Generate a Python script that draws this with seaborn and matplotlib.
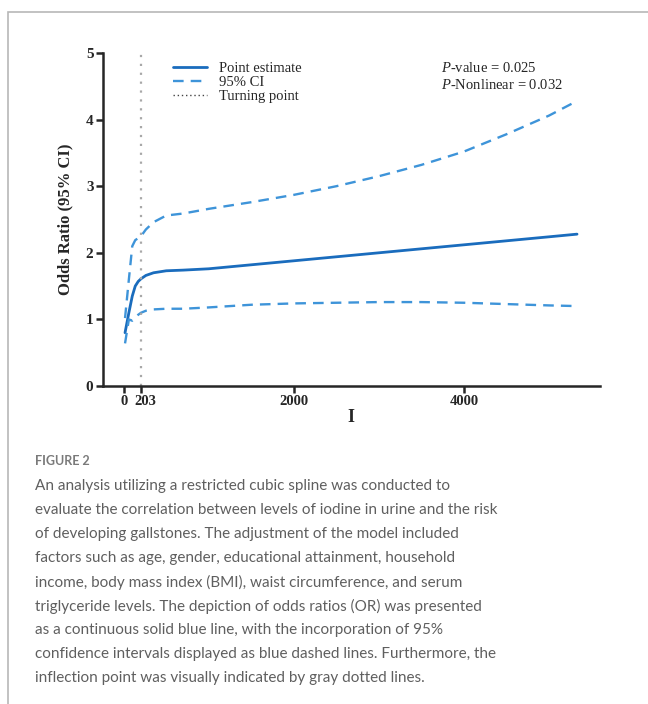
import matplotlib
matplotlib.use('Agg')
import matplotlib.pyplot as plt
import matplotlib.transforms as mtransforms
import seaborn as sns
import pandas as pd
from matplotlib.patches import Rectangle

# values
iodine = [15, 60, 100, 135, 170, 203, 260, 350, 500, 700, 1000, 1500,
          2000, 2500, 3000, 3500, 4000, 4500, 5000, 5330]
odds_ratio = [0.80, 1.10, 1.35, 1.50, 1.57, 1.61, 1.66, 1.70, 1.73, 1.74, 1.76, 1.82,
              1.88, 1.94, 2.00, 2.06, 2.12, 2.18, 2.24, 2.28]
ci_upper = [1.02, 1.60, 2.10, 2.19, 2.22, 2.25, 2.35, 2.46, 2.56, 2.59, 2.66, 2.76,
            2.87, 3.00, 3.15, 3.32, 3.52, 3.78, 4.06, 4.28]
ci_lower = [0.64, 1.00, 0.98, 1.02, 1.07, 1.10, 1.13, 1.15, 1.16, 1.16, 1.18, 1.22,
            1.24, 1.25, 1.26, 1.26, 1.25, 1.23, 1.21, 1.20]
turning_point = 203
x_ticks = [0, 203, 2000, 4000]
y_ticks = [0, 1, 2, 3, 4, 5]
p_texts = ['$\\it{P}$-value = 0.025', '$\\it{P}$-Nonlinear = 0.032']

caption_title = 'FIGURE 2'
caption_lines = [
    'An analysis utilizing a restricted cubic spline was conducted to',
    'evaluate the correlation between levels of iodine in urine and the risk',
    'of developing gallstones. The adjustment of the model included',
    'factors such as age, gender, educational attainment, household',
    'income, body mass index (BMI), waist circumference, and serum',
    'triglyceride levels. The depiction of odds ratios (OR) was presented',
    'as a continuous solid blue line, with the incorporation of 95%',
    'confidence intervals displayed as blue dashed lines. Furthermore, the',
    'inflection point was visually indicated by gray dotted lines.',
]

sns.set_style('ticks')
plt.rcParams['font.family'] = ['Liberation Serif', 'DejaVu Serif']
plt.rcParams['mathtext.fontset'] = 'custom'
plt.rcParams['mathtext.rm'] = 'Liberation Serif'
plt.rcParams['mathtext.it'] = 'Liberation Serif:italic'

data = pd.DataFrame({'x': iodine, 'or': odds_ratio, 'hi': ci_upper, 'lo': ci_lower})

solid_color = '#1a6cbd'
dash_color = '#3e94d9'

fig = plt.figure(figsize=(6.48, 7.04), dpi=100)
fig.patches.append(Rectangle((8 / 648, -0.1), 1.2, 1 - 12 / 704 + 0.1,
                             transform=fig.transFigure, fill=False,
                             edgecolor='#b8b8b8', linewidth=1.2))

ax = fig.add_axes([102.5 / 648, 1 - 386 / 704, (600 - 102.5) / 648, (386 - 53) / 704])

sns.lineplot(data=data, x='x', y='or', ax=ax, color=solid_color, linewidth=2.0,
             label='Point estimate')
sns.lineplot(data=data, x='x', y='hi', ax=ax, color=dash_color, linewidth=1.7,
             linestyle=(0, (4.5, 3)), label='95% CI')
sns.lineplot(data=data, x='x', y='lo', ax=ax, color=dash_color, linewidth=1.7,
             linestyle=(0, (4.5, 3)))
ax.axvline(turning_point, color='#a8a8a8', linewidth=1.6, linestyle=(0, (1, 3)))
ax.plot([], [], color='#444444', linewidth=1.0, linestyle=(0, (1, 2)), label='Turning point')

ax.set_xlim(-250, 5600)
ax.set_ylim(0, 5)
ax.set_xticks(x_ticks)
ax.set_xticklabels([str(t) for t in x_ticks], fontweight='bold', fontsize=10.5)
ax.set_yticks(y_ticks)
ax.set_yticklabels([str(t) for t in y_ticks], fontweight='bold', fontsize=11)
ax.tick_params(axis='both', direction='out', length=5, width=1.8, pad=1.5)
# nudge the "203" label right so it does not touch "0"
shift = mtransforms.ScaledTranslation(4 / 100, 0, fig.dpi_scale_trans)
lbl = ax.get_xticklabels()[1]
lbl.set_transform(lbl.get_transform() + shift)
ax.set_xlabel('I', fontweight='bold', fontsize=13, labelpad=1)
ax.set_ylabel('Odds Ratio (95% CI)', fontweight='bold', fontsize=12, labelpad=9)
sns.despine(ax=ax)
for side in ['left', 'bottom']:
    ax.spines[side].set_linewidth(1.8)

ax.legend(loc='upper left', bbox_to_anchor=(0.125, 1.0), frameon=False, fontsize=10.5,
          handlelength=2.3, handletextpad=0.8, labelspacing=0.05, borderaxespad=0.2)

for i, txt in enumerate(p_texts):
    ax.text(0.68, 0.955 - i * 0.05, txt, transform=ax.transAxes, fontsize=10.5,
            ha='left', va='center')

fig.text(35 / 648, 1 - 461 / 704, caption_title, fontsize=9, color='#7a7a7a',
         fontfamily='Lato', fontweight='bold', va='center')
for i, line in enumerate(caption_lines):
    fig.text(35 / 648, 1 - (486 + i * 24) / 704, line, fontsize=11, color='#5f5f5f',
             fontfamily='Lato', va='center')

fig.savefig('out.png', dpi=100)
plt.close(fig)
